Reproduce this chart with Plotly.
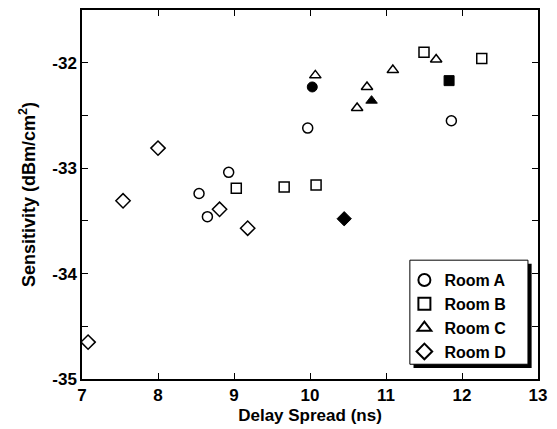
import plotly.graph_objects as go

# Data (x = delay spread ns, y = sensitivity dBm/cm^2)
room_a_x = [8.54, 8.65, 8.93, 9.97, 11.86]
room_a_y = [-33.24, -33.46, -33.04, -32.62, -32.55]
room_a_fill_x = [10.03]
room_a_fill_y = [-32.23]

room_b_x = [9.03, 9.66, 10.08, 11.50, 12.26]
room_b_y = [-33.19, -33.18, -33.16, -31.90, -31.96]
room_b_fill_x = [11.83]
room_b_fill_y = [-32.17]

room_c_x = [10.07, 10.62, 10.75, 11.09, 11.66]
room_c_y = [-32.12, -32.43, -32.23, -32.07, -31.97]
room_c_fill_x = [10.81]
room_c_fill_y = [-32.36]

room_d_x = [7.08, 7.54, 8.00, 8.81, 9.18]
room_d_y = [-34.65, -33.31, -32.81, -33.39, -33.57]
room_d_fill_x = [10.45]
room_d_fill_y = [-33.48]

x_ticks = [7, 8, 9, 10, 11, 12, 13]
y_ticks = [-35, -34, -33, -32]

names = ["Room A", "Room B", "Room C", "Room D"]
symbols = ["circle-open", "square-open", "triangle-up-open", "diamond-open"]
filled = ["circle", "square", "triangle-up", "diamond"]
sizes = [10, 10, 10, 11]

open_sets = [(room_a_x, room_a_y), (room_b_x, room_b_y), (room_c_x, room_c_y), (room_d_x, room_d_y)]
fill_sets = [(room_a_fill_x, room_a_fill_y), (room_b_fill_x, room_b_fill_y),
             (room_c_fill_x, room_c_fill_y), (room_d_fill_x, room_d_fill_y)]

FAM = "Liberation Sans, Arial, sans-serif"

fig = go.Figure()
for i in range(4):
    fig.add_trace(go.Scatter(
        x=open_sets[i][0], y=open_sets[i][1], mode="markers", name="<b>" + names[i] + "</b>",
        legendgroup=names[i],
        marker=dict(symbol=symbols[i], size=sizes[i], color="black", line=dict(width=1.5, color="black")),
    ))
for i in range(4):
    fig.add_trace(go.Scatter(
        x=fill_sets[i][0], y=fill_sets[i][1], mode="markers", showlegend=False,
        legendgroup=names[i],
        marker=dict(symbol=filled[i], size=sizes[i], color="black", line=dict(width=1, color="black")),
    ))

# legend box with drop shadow
lx0, lx1, ly0, ly1 = 0.719, 0.978, 0.040, 0.322
fig.add_shape(type="rect", xref="paper", yref="paper", x0=lx0 + 0.008, x1=lx1 + 0.008,
              y0=ly0 - 0.01, y1=ly1 - 0.01, fillcolor="black", line=dict(width=0), layer="below")
fig.add_shape(type="rect", xref="paper", yref="paper", x0=lx0, x1=lx1, y0=ly0, y1=ly1,
              fillcolor="white", line=dict(width=1, color="black"), layer="below")

axis_common = dict(showgrid=False, zeroline=False, showline=True, linecolor="black", linewidth=1.5,
                   mirror="ticks", ticks="inside", ticklen=6, tickwidth=1.2, tickcolor="black",
                   automargin=False,
                   tickfont=dict(family=FAM, size=17, color="black"))

fig.update_layout(
    width=557, height=429,
    margin=dict(l=82, r=19, t=10, b=50),
    paper_bgcolor="white", plot_bgcolor="white",
    font=dict(family=FAM, size=16, color="black"),
    showlegend=True,
    legend=dict(x=lx0 - 0.012, y=ly1 - 0.008, xanchor="left", yanchor="top",
                bgcolor="rgba(0,0,0,0)", borderwidth=0,
                font=dict(family=FAM, size=16, color="black"),
                tracegroupgap=0, itemsizing="constant"),
    xaxis=dict(range=[7, 13], tickvals=x_ticks, ticktext=["<b>%d</b>" % v for v in x_ticks],
               title=dict(text="<b>Delay Spread (ns)</b>", font=dict(size=17, family=FAM), standoff=5),
               **axis_common),
    yaxis=dict(range=[-35, -31.5], tickvals=y_ticks, ticktext=["<b>%d</b>" % v for v in y_ticks],
               title=dict(text="<b>Sensitivity (dBm/cm<sup>2</sup>)</b>", font=dict(size=18, family=FAM),
                          standoff=12),
               minor=dict(dtick=0.5, tick0=-35, ticks="inside", ticklen=6, tickcolor="black"),
               **axis_common),
)

fig.write_html("out.html")
